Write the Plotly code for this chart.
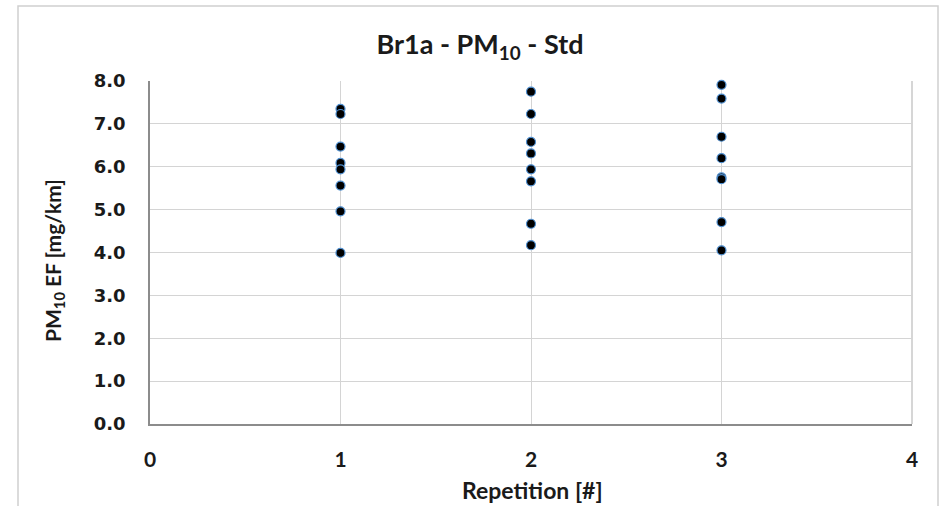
import plotly.graph_objects as go

rep1 = [7.35, 7.23, 6.47, 6.09, 5.94, 5.56, 4.96, 3.99]
rep2 = [7.75, 7.23, 6.58, 6.31, 5.94, 5.66, 4.67, 4.17]
rep3 = [7.91, 7.59, 6.70, 6.20, 5.75, 5.71, 4.71, 4.05]
repetitions = [1, 2, 3]
x_ticks = [0, 1, 2, 3, 4]
y_ticks = [0, 1, 2, 3, 4, 5, 6, 7, 8]

xs, ys = [], []
for r, vals in zip(repetitions, [rep1, rep2, rep3]):
    xs += [r] * len(vals)
    ys += vals

LBL = "Lato, sans-serif"
L, R, T, B = 150, 34, 81, 82
PW, PH = 946 - L - R, 506 - T - B


def px(x):
    return (x - L) / PW


def py(y):
    return (506 - B - y) / PH


fig = go.Figure()
fig.add_trace(go.Scatter(
    x=xs, y=ys, mode="markers",
    marker=dict(size=9, color="black", line=dict(color="#4f8fd0", width=1.2)),
    showlegend=False, cliponaxis=False,
))

fig.update_layout(
    width=946, height=506,
    margin=dict(l=L, r=R, t=T, b=B, autoexpand=False),
    paper_bgcolor="white", plot_bgcolor="white",
    title=dict(text="<b>Br1a - PM<sub>10</sub> - Std</b>", x=px(480), xref="paper",
               y=1 - 45 / 506, yref="container", xanchor="center", yanchor="middle",
               font=dict(family=LBL, size=27, color="#1a1a1a")),
    xaxis=dict(range=[0, 4], tickvals=x_ticks, ticktext=[f"<b>{v}</b>" for v in x_ticks],
               showgrid=True, gridcolor="#d4d4d4", gridwidth=1.3,
               showline=True, linecolor="#8c8c8c", linewidth=1.5, mirror=False,
               zeroline=False, ticks="", ticklabelstandoff=16, automargin=False,
               tickfont=dict(family=LBL, size=21, color="#1a1a1a")),
    yaxis=dict(range=[0, 8], tickvals=y_ticks, ticktext=[f"<b>{v:.1f}</b>" for v in y_ticks],
               showgrid=True, gridcolor="#d4d4d4", gridwidth=1.3,
               showline=True, linecolor="#8c8c8c", linewidth=1.5,
               zeroline=False, ticks="", ticklabelstandoff=19, automargin=False,
               tickfont=dict(family="DejaVu Sans", size=18, color="#1a1a1a")),
    annotations=[
        dict(text="<b>Repetition [#]</b>", xref="paper", yref="paper",
             x=px(532), y=py(490), xanchor="center", yanchor="middle", showarrow=False,
             font=dict(family=LBL, size=23, color="#1a1a1a")),
        dict(text="<b>PM<sub>10</sub> EF [mg/km]</b>", xref="paper", yref="paper",
             x=px(54), y=py(261), xanchor="center", yanchor="middle", showarrow=False,
             textangle=-90, font=dict(family=LBL, size=21, color="#1a1a1a")),
    ],
    shapes=[
        dict(type="line", xref="paper", yref="paper", x0=1, x1=1, y0=0, y1=1,
             line=dict(color="#c8c8c8", width=1.5), layer="below"),
        dict(type="rect", xref="paper", yref="paper",
             x0=px(18), x1=px(938), y0=-0.4, y1=py(6),
             line=dict(color="#d0d0d0", width=1.5), layer="below"),
    ],
)

fig.write_html("out.html", config={"displayModeBar": False},
               post_script="document.body.style.margin='0px';")
